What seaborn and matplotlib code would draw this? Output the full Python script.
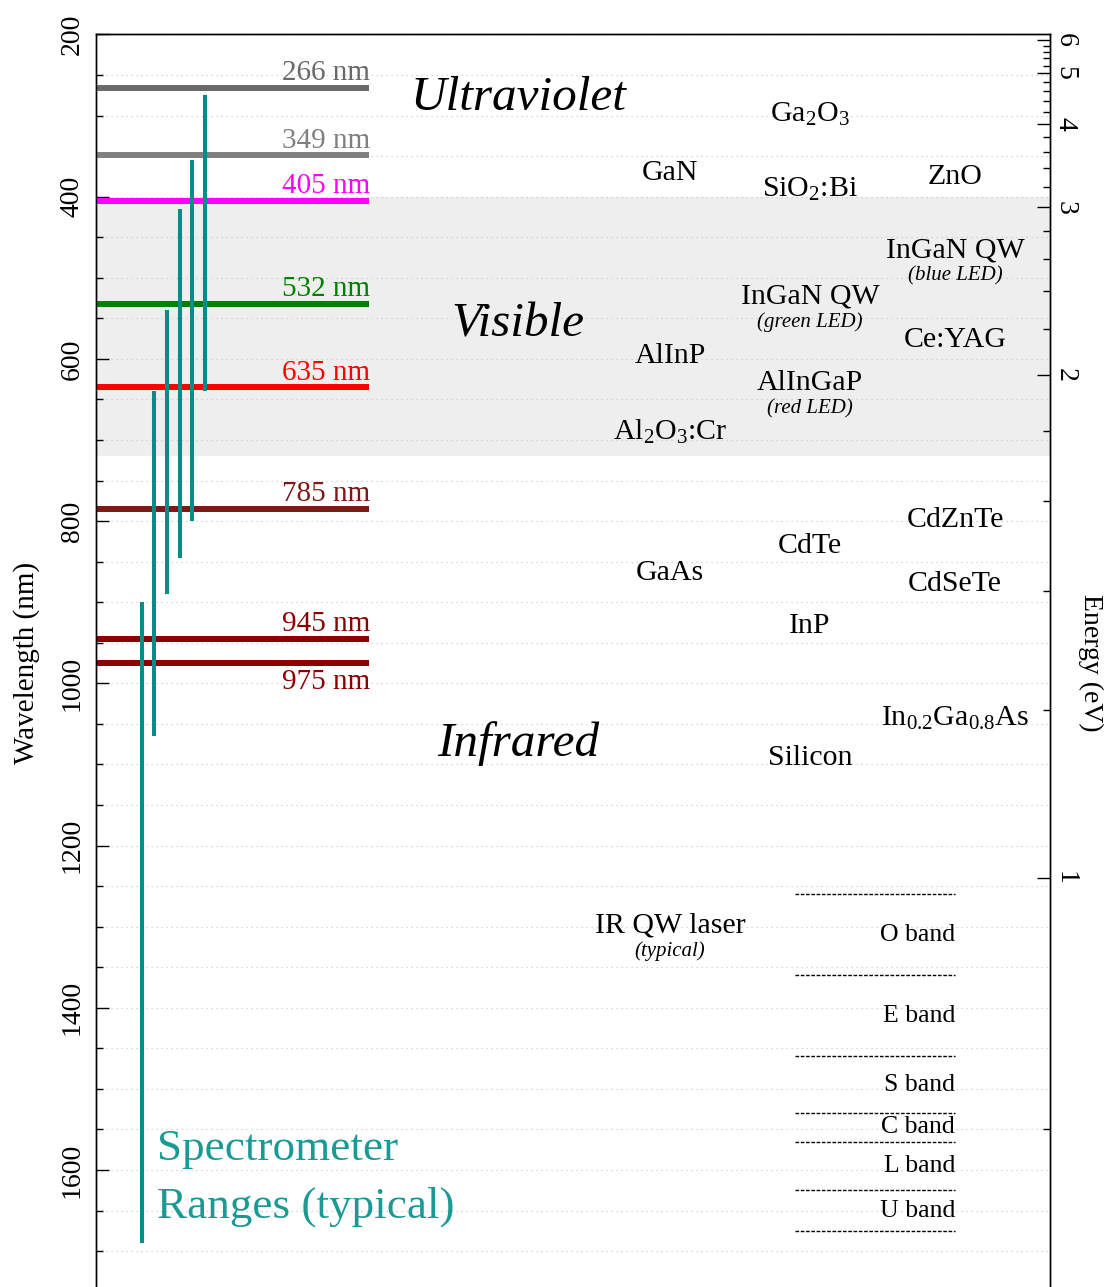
import numpy as np
import pandas as pd
import matplotlib
matplotlib.use("Agg")
import matplotlib.pyplot as plt
import seaborn as sns

# ---------------- data ----------------
laser_nm = [266, 349, 405, 532, 635, 785, 945, 975]
laser_colors = ["#696969", "#808080", "#ff00ff", "#008000", "#ff0000",
                "#7f1717", "#8b0000", "#8b0000"]
laser_label_below = [False, False, False, False, False, False, False, True]

spec_x = [46, 58, 71, 84, 96, 109]
spec_lo = [900, 640, 540, 415, 355, 275]
spec_hi = [1690, 1065, 890, 845, 800, 640]

visible_lo, visible_hi = 400, 720

region_names = ["Ultraviolet", "Visible", "Infrared"]
region_nm = [274, 553, 1070]

mat_names = ["Ga$_2$O$_3$", "GaN", "SiO$_2$:Bi", "ZnO", "InGaN QW", "InGaN QW",
             "Ce:YAG", "AlInP", "AlInGaP", "Al$_2$O$_3$:Cr", "CdZnTe", "CdTe",
             "GaAs", "CdSeTe", "InP", "In$_{0.2}$Ga$_{0.8}$As", "Silicon",
             "IR QW laser"]
mat_nm = [295, 367, 388, 372, 462, 519, 573, 592, 626, 687, 795, 827,
          860, 874, 926, 1040, 1088, 1295]
mat_col = [2, 1, 2, 3, 3, 2, 3, 1, 2, 1, 3, 2, 1, 3, 2, 3, 2, 1]
mat_notes = ["", "", "", "", "(blue LED)", "(green LED)", "", "", "(red LED)",
             "", "", "", "", "", "", "", "", "(typical)"]

band_names = ["O band", "E band", "S band", "C band", "L band", "U band"]
band_edges = [1260, 1360, 1460, 1530, 1565, 1625, 1675]

energy_major = [1, 2, 3, 4, 5, 6]
energy_minor = [0.8, 1.2, 1.4, 1.6, 1.8, 2.2, 2.4, 2.6, 2.8, 3.2, 3.4, 3.6,
                3.8, 4.2, 4.4, 4.6, 4.8, 5.2, 5.4, 5.6, 5.8]

# ---------------- style ----------------
sns.set_theme(style="ticks")
plt.rcParams["font.family"] = ["Liberation Serif", "DejaVu Serif"]
plt.rcParams["mathtext.fontset"] = "custom"
plt.rcParams["mathtext.rm"] = "Liberation Serif"
plt.rcParams["mathtext.it"] = "Liberation Serif:italic"
plt.rcParams["lines.solid_capstyle"] = "butt"
plt.rcParams["axes.edgecolor"] = "black"
plt.rcParams["axes.linewidth"] = 1.0
plt.rcParams["text.color"] = "black"
plt.rcParams["axes.labelcolor"] = "black"
plt.rcParams["xtick.color"] = "black"
plt.rcParams["ytick.color"] = "black"

TEAL = "#088c88"
TEAL_TXT = "#1b9a95"

fig = plt.figure(figsize=(11.05, 12.87), dpi=100)
ax = fig.add_axes([0.08688, -0.00365, 0.8633, 0.9769])
ax.set_xlim(0, 954)
ax.set_ylim(1750, 200)

# visible band
ax.axhspan(visible_lo, visible_hi, color="#eeeeee", zorder=0, lw=0)

# grid
ax.set_yticks(np.arange(200, 1751, 200))
ax.set_yticks(np.arange(250, 1751, 50), minor=True)
ax.grid(which="both", axis="y", ls=(0, (1, 3)), color="#cccccc", lw=0.9, zorder=0.5)
ax.set_axisbelow(True)
ax.set_xticks([])

# laser lines
lasers = pd.DataFrame({
    "x": [0, 273] * len(laser_nm),
    "nm": np.repeat(laser_nm, 2),
    "label": np.repeat([f"{w} nm" for w in laser_nm], 2),
})
pal = {f"{w} nm": c for w, c in zip(laser_nm, laser_colors)}
sns.lineplot(data=lasers, x="x", y="nm", hue="label", palette=pal,
             units="label", estimator=None, sort=False, lw=4.3,
             legend=False, ax=ax, zorder=3)
for w, c, below in zip(laser_nm, laser_colors, laser_label_below):
    if below:
        ax.annotate(f"{w} nm", (274, w), xytext=(0, -18.5), textcoords="offset points",
                    ha="right", va="baseline", fontsize=21, color=c, zorder=5)
    else:
        ax.annotate(f"{w} nm", (274, w), xytext=(0, 5.5), textcoords="offset points",
                    ha="right", va="baseline", fontsize=21, color=c, zorder=5)

# spectrometer ranges
spec = pd.DataFrame({
    "x": np.repeat(spec_x, 2),
    "nm": np.ravel(np.column_stack([spec_lo, spec_hi])),
    "id": np.repeat(np.arange(len(spec_x)), 2),
})
sns.lineplot(data=spec, x="x", y="nm", units="id", estimator=None, sort=False,
             color=TEAL, lw=2.9, legend=False, ax=ax, zorder=4)
ax.text(61, 1588, "Spectrometer", fontsize=32.5, color=TEAL_TXT, ha="left", va="baseline")
ax.text(61, 1659, "Ranges (typical)", fontsize=32.5, color=TEAL_TXT, ha="left", va="baseline")

# region labels
for name, w in zip(region_names, region_nm):
    ax.annotate(name, (422, w), xytext=(0, -11.5), textcoords="offset points",
                ha="center", va="baseline", fontsize=35.5, style="italic")

# materials
col_x = {1: 574, 2: 714, 3: 859}
for name, w, c, note in zip(mat_names, mat_nm, mat_col, mat_notes):
    ax.annotate(name, (col_x[c], w), xytext=(0, -7.3), textcoords="offset points",
                ha="center", va="baseline", fontsize=21.5)
    if note:
        ax.annotate(note, (col_x[c], w), xytext=(0, -24), textcoords="offset points",
                    ha="center", va="baseline", fontsize=15, style="italic")

# telecom bands
for e in band_edges:
    ax.plot([699, 859], [e, e], color="black", lw=1.0, ls=(0, (2.6, 1.2)), zorder=3)
for name, lo, hi in zip(band_names, band_edges[:-1], band_edges[1:]):
    ax.text(859, (lo + hi) / 2, name, ha="right", va="center", fontsize=18.5)

# left axis
ax.tick_params(axis="y", which="major", direction="in", length=9.5, width=1,
               labelsize=20, pad=8, labelrotation=90, left=True, right=False)
ax.tick_params(axis="y", which="minor", direction="in", length=5, width=1,
               left=True, right=False)
for lab in ax.get_yticklabels():
    lab.set_va("center")
ax.set_ylabel("Wavelength (nm)", fontsize=21, labelpad=14)
ax.spines["bottom"].set_visible(False)

# right axis (energy)
ax2 = ax.twinx()
ax2.set_ylim(ax.get_ylim())
ax2.set_yticks([1240 / e for e in energy_major])
ax2.set_yticklabels([str(e) for e in energy_major])
ax2.set_yticks([1240 / e for e in energy_minor], minor=True)
ax2.tick_params(axis="y", which="major", direction="in", length=9.5, width=1,
                labelsize=20, pad=2, labelrotation=-90)
ax2.tick_params(axis="y", which="minor", direction="in", length=5, width=1)
for lab in ax2.get_yticklabels():
    lab.set_va("center")
ax2.set_ylabel("Energy (eV)", fontsize=20, rotation=-90, va="bottom", labelpad=0)
ax2.spines["bottom"].set_visible(False)
ax2.grid(False)

fig.savefig("out.png", dpi=100)
